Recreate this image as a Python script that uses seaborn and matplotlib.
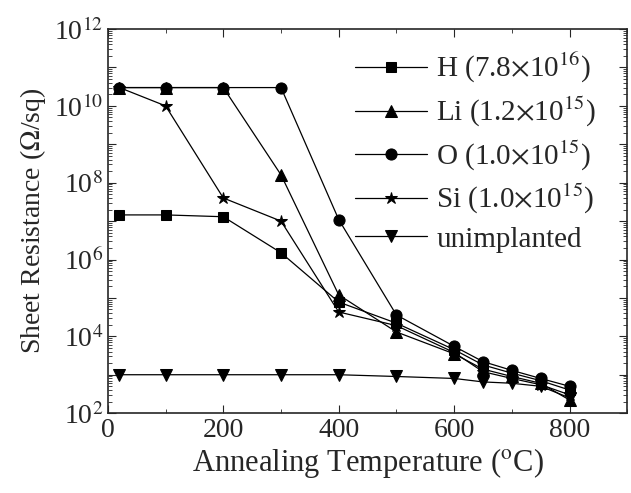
import numpy as np
import pandas as pd
import matplotlib
matplotlib.use("Agg")
import matplotlib.pyplot as plt
import matplotlib.ticker as mticker
import seaborn as sns

# Data
temps = [20, 100, 200, 300, 400, 500, 600, 650, 700, 750, 800]
r_h = [1.45e7, 1.45e7, 1.3e7, 1.5e6, 7.8e4, 2.2e4, 4.5e3, 1.8e3, 1.1e3, 7.0e2, 4.0e2]
r_li = [3e10, 3e10, 3e10, 1.6e8, 1.2e5, 1.3e4, 3.5e3, 1.4e3, 9.0e2, 6.0e2, 2.2e2]
r_o = [3e10, 3e10, 3e10, 3e10, 1.1e7, 3.6e4, 5.5e3, 2.2e3, 1.3e3, 8.0e2, 5.0e2]
r_si = [3e10, 1e10, 4e7, 1e7, 4.3e4, 1.9e4, 3.8e3, 1.2e3, 8.0e2, 5.5e2, 3.0e2]
r_un = [1e3, 1e3, 1e3, 1e3, 1e3, 9.0e2, 8.0e2, 6.5e2, 6.0e2, 5.0e2, 2.5e2]

labels = [r"H (7.8$\times$10$^{16}$)", r"Li (1.2$\times$10$^{15}$)",
          r"O (1.0$\times$10$^{15}$)", r"Si (1.0$\times$10$^{15}$)", "unimplanted"]
markers = ["s", "^", "o", "*", "v"]
sizes = [7, 8, 8, 9, 8]

sns.set_style("ticks")
plt.rcParams["font.family"] = ["Liberation Serif", "DejaVu Serif"]
plt.rcParams["mathtext.fontset"] = "stix"

df = pd.DataFrame({"temp": temps * 5,
                   "res": r_h + r_li + r_o + r_si + r_un,
                   "sample": np.repeat(labels, len(temps))})

fig = plt.figure(figsize=(6.31, 4.93), dpi=100)
ax = fig.add_axes([0.171, 0.162, 0.823, 0.779])

for lab, mk, ms in zip(labels, markers, sizes):
    sub = df[df["sample"] == lab]
    sns.lineplot(data=sub, x="temp", y="res", ax=ax, color="black",
                 marker=mk, markersize=ms, markeredgecolor="black",
                 linewidth=0.9, label=lab)

ax.set_yscale("log")
ax.set_xlim(0, 900)
ax.set_ylim(1e2, 1e12)
ax.xaxis.set_major_locator(mticker.MultipleLocator(200))
ax.xaxis.set_minor_locator(mticker.MultipleLocator(100))
ax.yaxis.set_major_locator(mticker.LogLocator(base=10, numticks=20))
ax.yaxis.set_minor_locator(mticker.LogLocator(base=10, subs=np.arange(2, 10), numticks=20))
ax.yaxis.set_minor_formatter(mticker.NullFormatter())

def ylab(v, pos):
    e = int(round(np.log10(v)))
    return r"10$^{%d}$" % e if e % 2 == 0 else ""

ax.yaxis.set_major_formatter(mticker.FuncFormatter(ylab))
ax.tick_params(which="both", direction="in", top=True, right=True)
ax.tick_params(axis="x", labelsize=20)
ax.tick_params(axis="y", labelsize=20)
ax.tick_params(which="major", length=6)
ax.tick_params(which="minor", length=3)
for s in ax.spines.values():
    s.set_linewidth(1.2)

ax.set_xlabel(r"Annealing Temperature ($^{\mathrm{o}}$C)", fontsize=22, labelpad=2)
ax.set_ylabel(r"Sheet Resistance ($\Omega$/sq)", fontsize=20, labelpad=4)

ax.legend(loc="upper left", bbox_to_anchor=(0.475, 0.942), frameon=False,
          fontsize=21, handlelength=2.5, labelspacing=0.33, handletextpad=0.3,
          borderpad=0, borderaxespad=0)

fig.savefig("out.png", dpi=100)
